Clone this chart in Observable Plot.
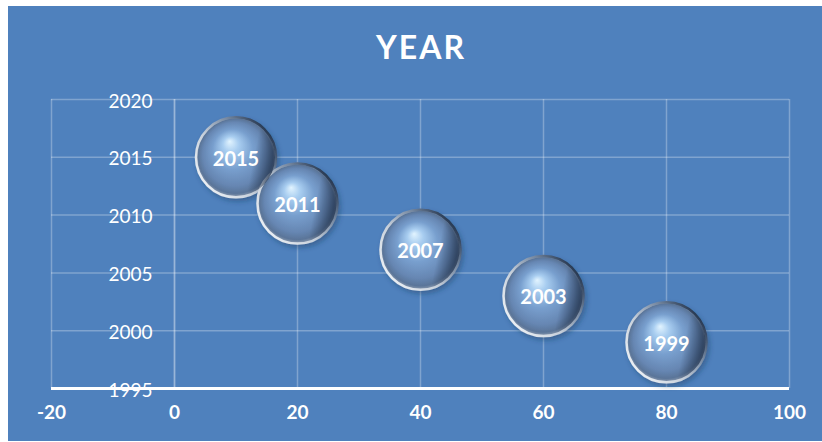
<!DOCTYPE html>
<html><head><meta charset="utf-8">
<script src="https://cdn.jsdelivr.net/npm/d3@7"></script>
<script src="https://cdn.jsdelivr.net/npm/@observablehq/plot@0.6"></script>
<style>
html,body{margin:0;padding:0;background:#fff;width:822px;height:442px;overflow:hidden;}
#panel{position:absolute;left:8px;top:6px;width:814px;height:435px;background:#4f81bd;}
#title{position:absolute;left:10px;top:31px;width:822px;text-align:center;font-family:Lato;font-weight:700;font-size:32px;letter-spacing:2px;color:#fff;line-height:32px;}
#chart{position:absolute;left:0;top:0;}
</style></head><body>
<div id="panel"></div>
<div id="title">YEAR</div>
<div id="chart"></div>
<script>
const xValues = [10, 20, 40, 60, 80];
const yearValues = [2015, 2011, 2007, 2003, 1999];
const bubbleLabels = ["2015", "2011", "2007", "2003", "1999"];
const xTicks = [-20, 0, 20, 40, 60, 80, 100];
const yTicks = [1995, 2000, 2005, 2010, 2015, 2020];

const data = xValues.map((x, i) => ({x, y: yearValues[i], label: bubbleLabels[i]}));

function defsMark() {
  const ns = "http://www.w3.org/2000/svg";
  const g = document.createElementNS(ns, "g");
  g.innerHTML = `<defs>
    <radialGradient id="ball" cx="0.5" cy="0.5" r="0.5" fx="0.42" fy="0.3">
      <stop offset="0" stop-color="#e2f4ff"/>
      <stop offset="0.2" stop-color="#a8cdf0"/>
      <stop offset="0.5" stop-color="#789fce"/>
      <stop offset="0.8" stop-color="#6686b2"/>
      <stop offset="0.93" stop-color="#5a7599"/>
      <stop offset="1" stop-color="#8e9cb0"/>
    </radialGradient>
    <linearGradient id="shade" x1="0" y1="0.4" x2="1" y2="0.6">
      <stop offset="0" stop-color="#1a2b45" stop-opacity="0"/>
      <stop offset="0.72" stop-color="#1a2b45" stop-opacity="0"/>
      <stop offset="1" stop-color="#1a2b45" stop-opacity="0.75"/>
    </linearGradient>
    <linearGradient id="rim" x1="0.1" y1="0.9" x2="0.95" y2="0.2">
      <stop offset="0" stop-color="#eef2f6"/>
      <stop offset="0.4" stop-color="#c6cfda"/>
      <stop offset="0.72" stop-color="#7487a0"/>
      <stop offset="1" stop-color="#22334c"/>
    </linearGradient>
    <filter id="shadow" x="-30%" y="-30%" width="160%" height="160%">
      <feDropShadow dx="2" dy="3" stdDeviation="2.5" flood-color="#1d3557" flood-opacity="0.4"/>
    </filter>
  </defs>`;
  return g;
}

const chart = Plot.plot({
  width: 822,
  height: 442,
  marginLeft: 51,
  marginRight: 33,
  marginTop: 99,
  marginBottom: 54,
  style: {background: "transparent", fontFamily: "Lato"},
  x: {domain: [-20, 100], axis: null},
  y: {domain: [1995, 2020], axis: null},
  marks: [
    defsMark,
    Plot.ruleX(xTicks, {stroke: "white", strokeOpacity: 0.28, strokeWidth: 1.5}),
    Plot.ruleY(yTicks, {stroke: "white", strokeOpacity: 0.28, strokeWidth: 1.5}),
    Plot.ruleX([0], {stroke: "white", strokeOpacity: 0.2, strokeWidth: 2}),
    Plot.text(yTicks, {x: () => 0, y: d => d, text: d => String(d), textAnchor: "end", dx: -22, dy: 2, fill: "white", fontSize: 19, fontFamily: "Lato"}),
    Plot.ruleY([1995], {stroke: "white", strokeWidth: 3}),
    Plot.dot(data, {x: "x", y: "y", r: 40, fill: "url(#ball)", stroke: "url(#rim)", strokeWidth: 2.5}),
    Plot.dot(data, {x: "x", y: "y", r: 39, fill: "url(#shade)"}),
    Plot.text(data, {x: "x", y: "y", text: "label", fill: "white", fontSize: 20, fontWeight: "bold", dy: 2, fontFamily: "Lato"}),
    Plot.text(xTicks, {x: d => d, frameAnchor: "bottom", dy: 30, text: d => String(d), fill: "white", fontSize: 19, fontWeight: "bold", fontFamily: "Lato"})
  ]
});
const circ = chart.querySelector("circle");
if (circ && circ.parentNode) circ.parentNode.setAttribute("filter", "url(#shadow)");
document.getElementById("chart").appendChild(chart);
</script>
</body></html>
